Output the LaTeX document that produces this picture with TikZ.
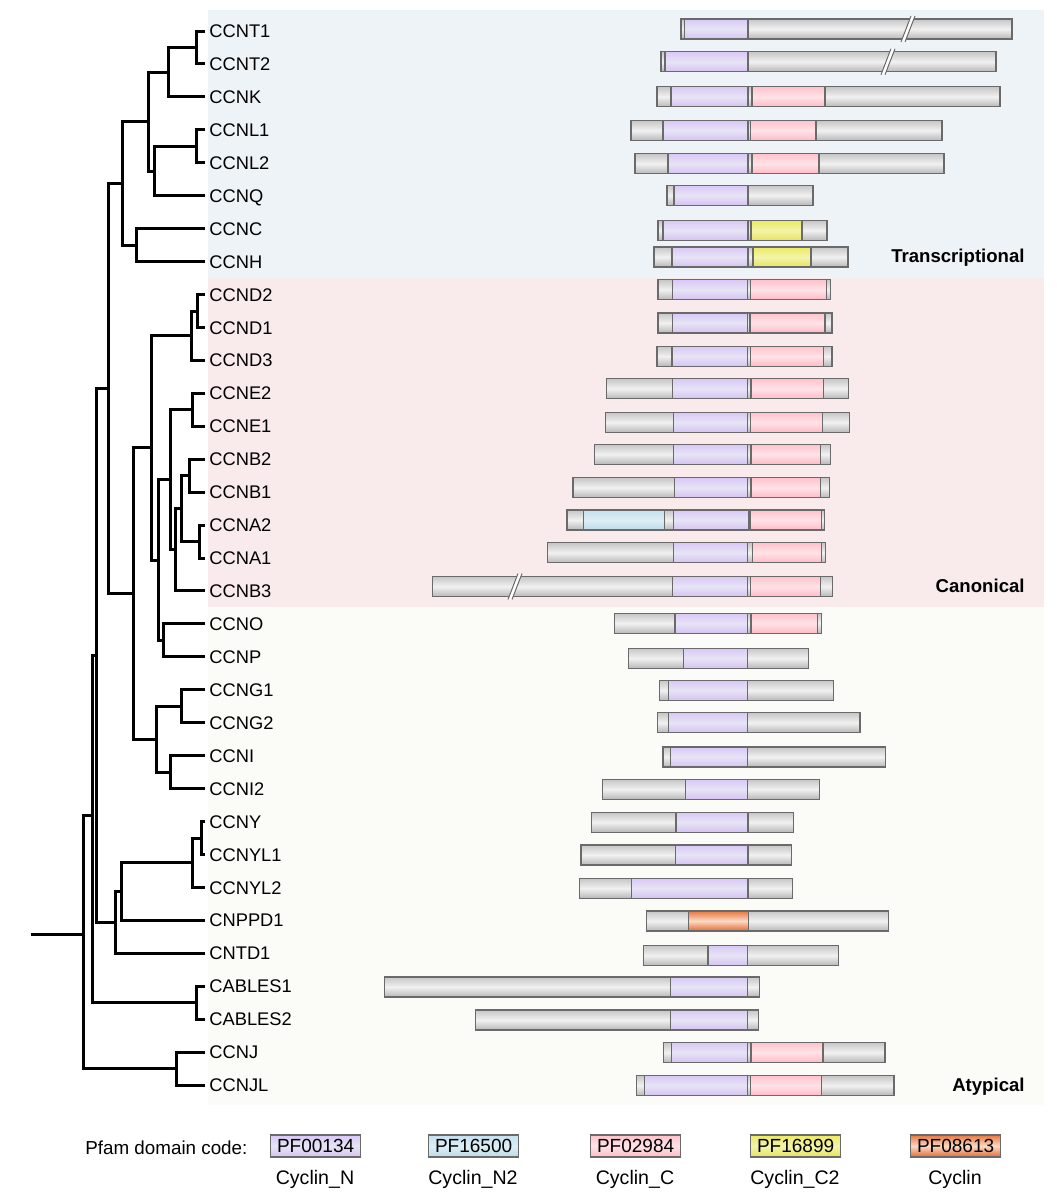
\documentclass[tikz,border=0pt]{standalone}
\usepackage{fontspec}
\setmainfont{Liberation Sans}
\definecolor{bgT}{HTML}{EEF3F8}
\definecolor{bgC}{HTML}{F9EBEC}
\definecolor{bgA}{HTML}{FBFBF7}
\definecolor{segline}{HTML}{6A6A6A}
\definecolor{gT}{HTML}{C6C6C6}
\definecolor{gM}{HTML}{F1F1F1}
\definecolor{gB}{HTML}{B8B8B8}
\definecolor{pT}{HTML}{D9C8F6}
\definecolor{pM}{HTML}{E7E4F5}
\definecolor{pB}{HTML}{D5C2F2}
\definecolor{kT}{HTML}{FFC2CC}
\definecolor{kM}{HTML}{FFE3E7}
\definecolor{kB}{HTML}{FFBAC6}
\definecolor{yT}{HTML}{EAEA62}
\definecolor{yM}{HTML}{F4F4AC}
\definecolor{yB}{HTML}{E4E45A}
\definecolor{bT}{HTML}{C4E0EE}
\definecolor{bM}{HTML}{DDEEF5}
\definecolor{bB}{HTML}{BDDAE9}
\definecolor{oT}{HTML}{E7773E}
\definecolor{oM}{HTML}{FBDAC6}
\definecolor{oB}{HTML}{E06A30}
\tikzset{
  seg/.style={draw=segline, line width=0.6pt},
  gs/.style={seg, top color=gT, bottom color=gB, middle color=gM},
  ps/.style={seg, top color=pT, bottom color=pB, middle color=pM},
  ks/.style={seg, top color=kT, bottom color=kB, middle color=kM},
  ys/.style={seg, top color=yT, bottom color=yB, middle color=yM},
  bs/.style={seg, top color=bT, bottom color=bB, middle color=bM},
  os/.style={seg, top color=oT, bottom color=oB, middle color=oM},
  tree/.style={line width=1.5pt, line join=miter, line cap=butt},
  lbl/.style={anchor=west, inner xsep=2pt, inner ysep=0pt, text height=6.55pt, text depth=0pt, font=\fontsize{9.15}{11}\selectfont},
  cat/.style={anchor=east, inner sep=0pt, text height=6.7pt, text depth=0pt, font=\fontsize{9.3}{11}\selectfont\bfseries},
  legbox/.style={minimum width=45pt, minimum height=11pt, inner sep=0pt, anchor=west, text height=6.8pt, text depth=0pt, font=\fontsize{9.5}{10}\selectfont},
  legtxt/.style={inner sep=0pt, text height=7pt, text depth=0pt, font=\fontsize{9.8}{11}\selectfont}
}
\newcommand{\sg}[4]{\path[#1] (#2,#4-10) rectangle (#3,#4+10);}
\newcommand{\brk}[2]{%
  \fill[white] (#1-7,#2+13) -- (#1-3,#2+13) -- (#1+7,#2-13) -- (#1+3,#2-13) -- cycle;
  \draw[segline, line width=0.5pt] (#1-7,#2+13) -- (#1+3,#2-13) (#1-3,#2+13) -- (#1+7,#2-13);}
\begin{document}
\begin{tikzpicture}[x=0.5pt,y=-0.5pt]
\useasboundingbox (0,0) rectangle (1056,1200);
\fill[white] (0,0) rectangle (1056,1200);
% background bands
\fill[bgT] (208,10) rectangle (1044,278);
\fill[bgC] (208,278) rectangle (1044,607);
\fill[bgA] (208,607) rectangle (1044,1105);
% labels
\foreach \n [count=\i from 0] in {CCNT1,CCNT2,CCNK,CCNL1,CCNL2,CCNQ,CCNC,CCNH,CCND2,CCND1,CCND3,CCNE2,CCNE1,CCNB2,CCNB1,CCNA2,CCNA1,CCNB3,CCNO,CCNP,CCNG1,CCNG2,CCNI,CCNI2,CCNY,CCNYL1,CCNYL2,CNPPD1,CNTD1,CABLES1,CABLES2,CCNJ,CCNJL}
  \node[lbl] (l\i) at (205,{31+32.94*\i}) {\n};
% tree internal nodes
\coordinate (T12) at (196.7,47.5);
\coordinate (TK) at (168,72.2);
\coordinate (L12) at (196.7,146.3);
\coordinate (LQ) at (154,171);
\coordinate (TKLQ) at (148,121.6);
\coordinate (CH) at (136.7,245.1);
\coordinate (TR) at (122.7,183.4);
\coordinate (D21) at (197,311);
\coordinate (DD) at (191.7,335.7);
\coordinate (EE) at (192.7,409.8);
\coordinate (B21) at (189.3,475.7);
\coordinate (A21) at (199.3,541.6);
\coordinate (BA) at (181.7,508.6);
\coordinate (BAB) at (175,549.8);
\coordinate (EBA) at (170,479.8);
\coordinate (OP) at (163.3,640.4);
\coordinate (EBAOP) at (158.3,560.1);
\coordinate (CAN) at (151.7,447.9);
\coordinate (GG) at (181.7,706.3);
\coordinate (II) at (170.7,772.2);
\coordinate (GI) at (156.7,739.2);
\coordinate (CGI) at (133.3,593.6);
\coordinate (UP) at (108.3,388.5);
\coordinate (Y1) at (201.7,838);
\coordinate (YY) at (192.7,862.7);
\coordinate (YP) at (121.7,891.6);
\coordinate (YPT) at (115,922.4);
\coordinate (XX) at (96,655.5);
\coordinate (CAB) at (196.7,1002.8);
\coordinate (ZZ) at (92.7,815);
\coordinate (JJ) at (176.7,1068.6);
\coordinate (RT) at (83.3,934);
\coordinate (R0) at (31,934);
% tree edges
\draw[tree] (l0.west) -| (T12) |- (l1.west);
\draw[tree] (T12) -| (TK) |- (l2.west);
\draw[tree] (l3.west) -| (L12) |- (l4.west);
\draw[tree] (L12) -| (LQ) |- (l5.west);
\draw[tree] (TK) -| (TKLQ) |- (LQ);
\draw[tree] (l6.west) -| (CH) |- (l7.west);
\draw[tree] (TKLQ) -| (TR) |- (CH);
\draw[tree] (l8.west) -| (D21) |- (l9.west);
\draw[tree] (D21) -| (DD) |- (l10.west);
\draw[tree] (l11.west) -| (EE) |- (l12.west);
\draw[tree] (l13.west) -| (B21) |- (l14.west);
\draw[tree] (l15.west) -| (A21) |- (l16.west);
\draw[tree] (B21) -| (BA) |- (A21);
\draw[tree] (BA) -| (BAB) |- (l17.west);
\draw[tree] (EE) -| (EBA) |- (BAB);
\draw[tree] (l18.west) -| (OP) |- (l19.west);
\draw[tree] (EBA) -| (EBAOP) |- (OP);
\draw[tree] (DD) -| (CAN) |- (EBAOP);
\draw[tree] (l20.west) -| (GG) |- (l21.west);
\draw[tree] (l22.west) -| (II) |- (l23.west);
\draw[tree] (GG) -| (GI) |- (II);
\draw[tree] (CAN) -| (CGI) |- (GI);
\draw[tree] (TR) -| (UP) |- (CGI);
\draw[tree] (l24.west) -| (Y1) |- (l25.west);
\draw[tree] (Y1) -| (YY) |- (l26.west);
\draw[tree] (YY) -| (YP) |- (l27.west);
\draw[tree] (YP) -| (YPT) |- (l28.west);
\draw[tree] (UP) -| (XX) |- (YPT);
\draw[tree] (l29.west) -| (CAB) |- (l30.west);
\draw[tree] (XX) -| (ZZ) |- (CAB);
\draw[tree] (l31.west) -| (JJ) |- (l32.west);
\draw[tree] (ZZ) -| (RT) |- (JJ);
\draw[tree] (R0) -- (RT);
% domain bars
\sg{gs}{681}{684.5}{29}\sg{ps}{684.5}{748}{29}\sg{gs}{748}{1012}{29}\brk{908}{29}
\sg{gs}{661}{665}{61.7}\sg{ps}{665}{748}{61.7}\sg{gs}{748}{996}{61.7}\brk{888}{61.7}
\sg{gs}{657}{671}{96.7}\sg{ps}{671}{748}{96.7}\sg{gs}{748}{752}{96.7}\sg{ks}{752}{825}{96.7}\sg{gs}{825}{1000}{96.7}
\sg{gs}{631}{663}{130.5}\sg{ps}{663}{748}{130.5}\sg{gs}{748}{750.5}{130.5}\sg{ks}{750.5}{816}{130.5}\sg{gs}{816}{942}{130.5}
\sg{gs}{635}{668}{163.7}\sg{ps}{668}{748}{163.7}\sg{gs}{748}{752}{163.7}\sg{ks}{752}{819}{163.7}\sg{gs}{819}{944}{163.7}
\sg{gs}{667}{674}{195.3}\sg{ps}{674}{748}{195.3}\sg{gs}{748}{813}{195.3}
\sg{gs}{658}{663}{230.5}\sg{ps}{663}{748}{230.5}\sg{gs}{748}{751}{230.5}\sg{ys}{751}{802}{230.5}\sg{gs}{802}{827}{230.5}
\sg{gs}{654}{672}{257}\sg{ps}{672}{748}{257}\sg{gs}{748}{753}{257}\sg{ys}{753}{811}{257}\sg{gs}{811}{848}{257}
\sg{gs}{658}{672.7}{289.7}\sg{ps}{672.7}{747.5}{289.7}\sg{gs}{747.5}{750.7}{289.7}\sg{ks}{750.7}{826.7}{289.7}\sg{gs}{826.7}{830.7}{289.7}
\sg{gs}{658}{672.7}{323}\sg{ps}{672.7}{747.5}{323}\sg{gs}{747.5}{750}{323}\sg{ks}{750}{825}{323}\sg{gs}{825}{832}{323}
\sg{gs}{657}{672}{356.3}\sg{ps}{672}{747.5}{356.3}\sg{gs}{747.5}{750.7}{356.3}\sg{ks}{750.7}{823.3}{356.3}\sg{gs}{823.3}{832}{356.3}
\sg{gs}{606.7}{672.7}{388.7}\sg{ps}{672.7}{747.7}{388.7}\sg{gs}{747.7}{751}{388.7}\sg{ks}{751}{823.7}{388.7}\sg{gs}{823.7}{848.3}{388.7}
\sg{gs}{605.3}{673.3}{422.5}\sg{ps}{673.3}{747.7}{422.5}\sg{gs}{747.7}{750.7}{422.5}\sg{ks}{750.7}{822.7}{422.5}\sg{gs}{822.7}{849.7}{422.5}
\sg{gs}{594.3}{673.3}{454.3}\sg{ps}{673.3}{747.7}{454.3}\sg{gs}{747.7}{751}{454.3}\sg{ks}{751}{820.7}{454.3}\sg{gs}{820.7}{830.3}{454.3}
\sg{gs}{573}{674.3}{487.7}\sg{ps}{674.3}{747.7}{487.7}\sg{gs}{747.7}{751}{487.7}\sg{ks}{751}{820.7}{487.7}\sg{gs}{820.7}{829.7}{487.7}
\sg{gs}{567}{583.3}{520}\sg{bs}{583.3}{664.3}{520}\sg{gs}{664.3}{673.3}{520}\sg{ps}{673.3}{749}{520}\sg{gs}{749}{750}{520}\sg{ks}{750}{821.7}{520}\sg{gs}{821.7}{824.3}{520}
\sg{gs}{547.3}{673.3}{552.8}\sg{ps}{673.3}{747.7}{552.8}\sg{gs}{747.7}{752.3}{552.8}\sg{ks}{752.3}{821.7}{552.8}\sg{gs}{821.7}{825.7}{552.8}
\sg{gs}{432.3}{672.7}{586.5}\sg{ps}{672.7}{747.7}{586.5}\sg{gs}{747.7}{750.7}{586.5}\sg{ks}{750.7}{820.7}{586.5}\sg{gs}{820.7}{832.7}{586.5}\brk{515}{586.5}
\sg{gs}{614.3}{675}{623.3}\sg{ps}{675}{747.3}{623.3}\sg{gs}{747.3}{751}{623.3}\sg{ks}{751}{817.7}{623.3}\sg{gs}{817.7}{821.7}{623.3}
\sg{gs}{628.3}{683.3}{658.3}\sg{ps}{683.3}{747.3}{658.3}\sg{gs}{747.3}{808.3}{658.3}
\sg{gs}{659.7}{668.3}{690.3}\sg{ps}{668.3}{747.3}{690.3}\sg{gs}{747.3}{833.3}{690.3}
\sg{gs}{657.7}{668.3}{722.7}\sg{ps}{668.3}{747.3}{722.7}\sg{gs}{747.3}{860}{722.7}
\sg{gs}{663}{670.7}{757}\sg{ps}{670.7}{747.3}{757}\sg{gs}{747.3}{885.7}{757}
\sg{gs}{602.3}{685.3}{789.3}\sg{ps}{685.3}{747.3}{789.3}\sg{gs}{747.3}{819.3}{789.3}
\sg{gs}{591.7}{676}{822.3}\sg{ps}{676}{748}{822.3}\sg{gs}{748}{793.3}{822.3}
\sg{gs}{581}{675.3}{855}\sg{ps}{675.3}{748}{855}\sg{gs}{748}{791.3}{855}
\sg{gs}{579.3}{631.7}{888.3}\sg{ps}{631.7}{748}{888.3}\sg{gs}{748}{792.7}{888.3}
\sg{gs}{646.5}{688.5}{921}\sg{os}{688.5}{748.6}{921}\sg{gs}{748.6}{888.3}{921}
\sg{gs}{643.8}{708}{955.5}\sg{ps}{708}{747.6}{955.5}\sg{gs}{747.6}{838.2}{955.5}
\sg{gs}{384.2}{670.5}{987}\sg{ps}{670.5}{747.6}{987}\sg{gs}{747.6}{759.5}{987}
\sg{gs}{475.5}{670.5}{1020}\sg{ps}{670.5}{747.6}{1020}\sg{gs}{747.6}{758.1}{1020}
\sg{gs}{663.8}{671.6}{1052.5}\sg{ps}{671.6}{747.6}{1052.5}\sg{gs}{747.6}{751}{1052.5}\sg{ks}{751}{823}{1052.5}\sg{gs}{823}{884.9}{1052.5}
\sg{gs}{636.7}{644.5}{1085.5}\sg{ps}{644.5}{747.6}{1085.5}\sg{gs}{747.6}{750.3}{1085.5}\sg{ks}{750.3}{821.3}{1085.5}\sg{gs}{821.3}{894}{1085.5}
% category labels
\node[cat] (catT) at (1025,255.5) {Transcriptional};
\node[cat] (catC) at (1025,586) {Canonical};
\node[cat] (catA) at (1025,1084.5) {Atypical};
% legend
\node[legtxt, anchor=west, font=\fontsize{9.4}{11}\selectfont] (pfam) at (85,1147) {Pfam domain code:};
\foreach \x/\c/\code/\nm in {270/ps/PF00134/Cyclin\_N, 428/bs/PF16500/Cyclin\_N2, 590/ks/PF02984/Cyclin\_C, 750/ys/PF16899/Cyclin\_C2, 910/os/PF08613/Cyclin}{
  \node[\c, legbox] (box\code) at (\x,1146) {\code};
  \node[legtxt] (lab\code) at (\x+45,1177) {\nm};
}
\end{tikzpicture}
\end{document}
